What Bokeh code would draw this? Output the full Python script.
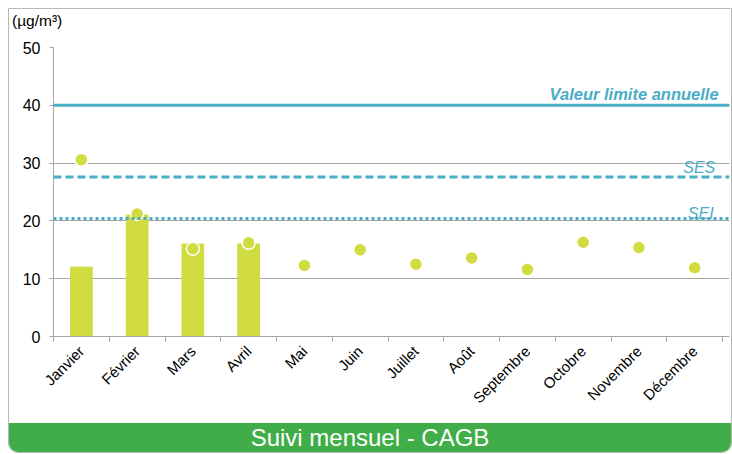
import math
from bokeh.plotting import figure
from bokeh.models import (Range1d, FixedTicker, Span, Label, Div, Column, ColumnDataSource)
from bokeh.embed import file_html
from bokeh.resources import INLINE

months = ["Janvier", "Février", "Mars", "Avril", "Mai", "Juin", "Juillet", "Août",
          "Septembre", "Octobre", "Novembre", "Décembre"]
bar_values = [12.0, 21.0, 16.0, 16.0]
point_values = [30.6, 21.2, 15.2, 16.2, 12.3, 15.0, 12.5, 13.6, 11.6, 16.3, 15.4, 11.9]
y_ticks = [0, 10, 20, 30, 40, 50]
limit_value = 40
ses_value = 27.6
sei_value = 20.4
title_text = "Suivi mensuel - CAGB"
unit_text = "(µg/m³)"

TEAL = "#4bacc6"
LIME = "#d0dc3f"
GREY = "#a6a6a6"
FONT = "Liberation Sans"

centers = [i + 0.5 for i in range(len(months))]

unit_div = Div(text=unit_text, width=722, height=26, margin=0,
               styles={"font-family": FONT, "font-size": "15.5px", "color": "#000",
                       "padding-left": "3px", "padding-top": "1px", "background-color": "white"})

p = figure(width=722, height=388, output_backend="svg", toolbar_location=None,
           x_range=Range1d(0, 12.125), y_range=Range1d(0, 50),
           min_border_left=44, min_border_right=2, min_border_top=12, min_border_bottom=87)
p.outline_line_color = None
p.background_fill_color = "white"
p.border_fill_color = "white"

# grid
p.xgrid.visible = False
p.ygrid.ticker = FixedTicker(ticks=y_ticks)
p.ygrid.grid_line_color = GREY
p.ygrid.grid_line_width = 1

# y axis
p.yaxis.ticker = FixedTicker(ticks=y_ticks)
p.yaxis.axis_line_color = GREY
p.yaxis.major_tick_line_color = GREY
p.yaxis.major_tick_out = 4
p.yaxis.major_tick_in = 0
p.yaxis.minor_tick_line_color = None
p.yaxis.major_label_text_font = FONT
p.yaxis.major_label_text_font_size = "16px"
p.yaxis.major_label_text_color = "#000000"
p.yaxis.major_label_standoff = 9

# x axis
p.xaxis.ticker = FixedTicker(ticks=centers, minor_ticks=list(range(len(months) + 1)))
p.xaxis.major_label_overrides = {c: m for c, m in zip(centers, months)}
p.xaxis.axis_line_color = GREY
p.xaxis.major_tick_line_color = None
p.xaxis.major_tick_out = 0
p.xaxis.major_tick_in = 0
p.xaxis.minor_tick_line_color = GREY
p.xaxis.minor_tick_out = 5
p.xaxis.minor_tick_in = 0
p.xaxis.major_label_orientation = math.pi / 4
p.xaxis.major_label_text_font = FONT
p.xaxis.major_label_text_font_size = "15px"
p.xaxis.major_label_text_color = "#000000"
p.xaxis.major_label_standoff = 7

# bars
bar_src = ColumnDataSource(dict(x=centers[:len(bar_values)], top=bar_values))
p.vbar(x="x", top="top", width=0.39, bottom=0, source=bar_src,
       fill_color=LIME, line_color=LIME)

# reference lines
p.add_layout(Span(location=limit_value, dimension="width", line_color=TEAL, line_width=3))
p.add_layout(Span(location=ses_value, dimension="width", line_color=TEAL, line_width=3,
                  line_dash="8 4"))
p.add_layout(Span(location=sei_value, dimension="width", line_color=TEAL, line_width=3,
                  line_dash="3 3"))

# points
pt_src = ColumnDataSource(dict(x=centers, y=point_values))
p.scatter(x="x", y="y", source=pt_src, size=13, fill_color=LIME,
          line_color="white", line_width=1.5)

# labels
p.add_layout(Label(x=11.93, y=limit_value + 1.9, text="Valeur limite annuelle",
                   text_align="right", text_baseline="alphabetic",
                   text_font=FONT, text_font_size="16.5px", text_font_style="bold italic",
                   text_color=TEAL))
p.add_layout(Label(x=11.87, y=ses_value + 1.7, text="SES",
                   text_align="right", text_baseline="alphabetic",
                   text_font=FONT, text_font_size="16px", text_font_style="italic",
                   text_color=TEAL))
p.add_layout(Label(x=11.84, y=sei_value + 0.8, text="SEI",
                   text_align="right", text_baseline="alphabetic",
                   text_font=FONT, text_font_size="16px", text_font_style="italic",
                   text_color=TEAL))

band = Div(text=title_text, width=722, height=29, margin=0,
           styles={"background-color": "#40ad48", "color": "white",
                   "font-family": FONT, "font-size": "24px", "text-align": "center",
                   "line-height": "29px", "border-radius": "0 0 9px 9px"})

layout = Column(children=[unit_div, p, band], spacing=0,
                styles={"border": "1px solid #b8b8b8", "border-radius": "0 0 10px 10px",
                        "margin": "8px 0 0 8px"})

open("out.html", "w").write(file_html(layout, INLINE))
